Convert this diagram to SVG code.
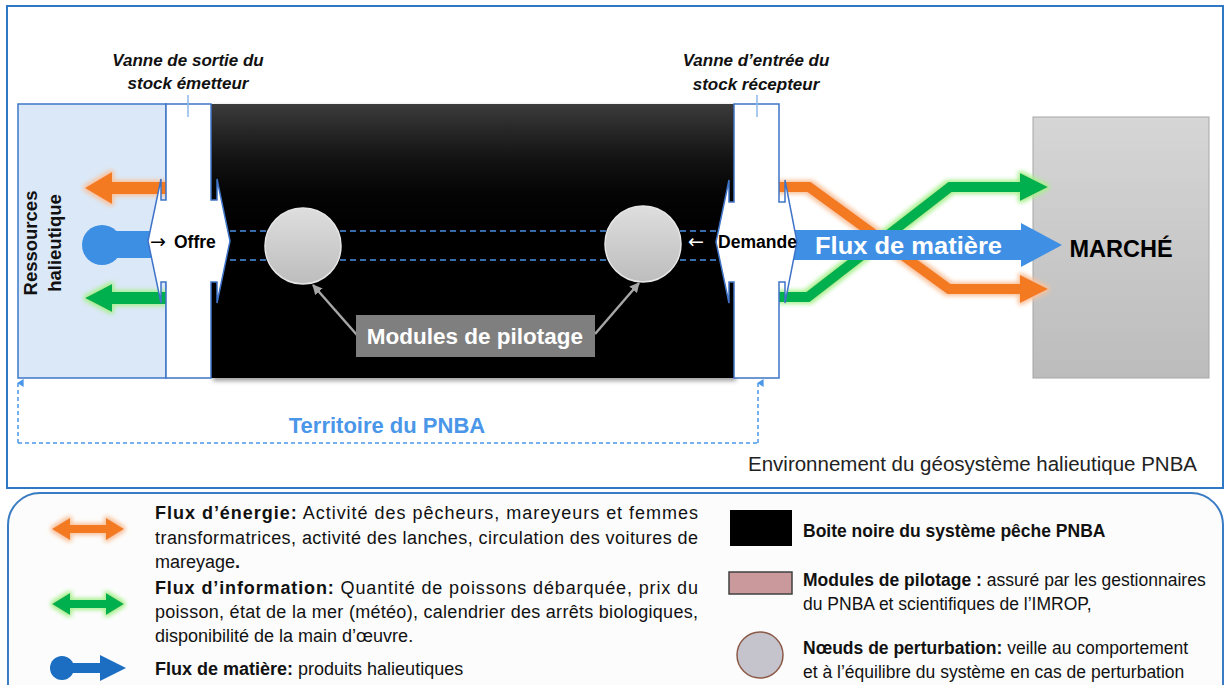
<svg xmlns="http://www.w3.org/2000/svg" width="1228" height="685" viewBox="0 0 1228 685">
<defs>
<style>
.sans{font-family:"Liberation Sans",Arial,sans-serif}
.b{font-weight:bold}
.arr{font-family:"DejaVu Sans",sans-serif}
.lg{font-family:"Liberation Sans",Arial,sans-serif;font-size:18px;fill:#111}
.lr{font-family:"Liberation Sans",Arial,sans-serif;font-size:17.5px;fill:#111}
.valve{fill:#fff;stroke:#3f74c8;stroke-width:1.5}
.tick{stroke:#8db8e8;stroke-width:1.5}
.dash{stroke:#4a90e2;stroke-width:1.3;stroke-dasharray:6 4;fill:none}
.orange{fill:#f47a20}
.green{fill:#00b050}
.pil{stroke:#a6a6a6;stroke-width:2.5;fill:none}
</style>
<linearGradient id="gBlack" x1="0" y1="0" x2="0" y2="1">
<stop offset="0" stop-color="#3c3c3c"/><stop offset="0.1" stop-color="#262626"/><stop offset="0.2" stop-color="#131313"/><stop offset="0.32" stop-color="#050505"/><stop offset="0.45" stop-color="#000"/><stop offset="1" stop-color="#000"/>
</linearGradient>
<linearGradient id="gMarche" x1="0" y1="0" x2="0" y2="1">
<stop offset="0" stop-color="#d6d6d6"/><stop offset="1" stop-color="#bcbcbc"/>
</linearGradient>
<linearGradient id="gCircle" x1="0" y1="0" x2="0" y2="1">
<stop offset="0" stop-color="#dedede"/><stop offset="1" stop-color="#bdbdbd"/>
</linearGradient>
<filter id="glowO" filterUnits="userSpaceOnUse" x="0" y="0" width="1228" height="685">
<feMorphology in="SourceAlpha" operator="dilate" radius="2" result="d"/>
<feGaussianBlur in="d" stdDeviation="2" result="bl"/>
<feFlood flood-color="#f9c29a"/>
<feComposite in2="bl" operator="in" result="g"/>
<feMerge><feMergeNode in="g"/><feMergeNode in="SourceGraphic"/></feMerge>
</filter>
<filter id="glowG" filterUnits="userSpaceOnUse" x="0" y="0" width="1228" height="685">
<feMorphology in="SourceAlpha" operator="dilate" radius="2" result="d"/>
<feGaussianBlur in="d" stdDeviation="2" result="bl"/>
<feFlood flood-color="#a8f08e"/>
<feComposite in2="bl" operator="in" result="g"/>
<feMerge><feMergeNode in="g"/><feMergeNode in="SourceGraphic"/></feMerge>
</filter>
<filter id="blur2" filterUnits="userSpaceOnUse" x="0" y="0" width="1228" height="685">
<feGaussianBlur stdDeviation="2"/>
</filter>
<marker id="mPil" viewBox="0 0 10 10" refX="9" refY="5" markerWidth="4" markerHeight="4" orient="auto">
<path d="M0,0 L10,5 L0,10 Z" fill="#a6a6a6"/>
</marker>
<marker id="mTer" viewBox="0 0 10 10" refX="5" refY="1" markerWidth="8" markerHeight="8" orient="auto" markerUnits="userSpaceOnUse">
<path d="M0,8 L5,0 L10,8 Z" fill="#4a96e8"/>
</marker>
</defs>

<rect width="1228" height="685" fill="#fff"/>

<g id="environnement">
<rect x="7" y="6" width="1216" height="482" fill="#fff" stroke="#2f78c4" stroke-width="2"/>
<text class="sans" x="748" y="471" font-size="20.5" fill="#222">Environnement du géosystème halieutique PNBA</text>
</g>

<g id="ressources">
<rect x="18" y="104" width="148" height="274" fill="#dbe8f7" stroke="#3c78c8" stroke-width="1.5"/>
<text class="sans b" transform="translate(37,243) rotate(-90)" text-anchor="middle" font-size="18.5" fill="#111">Ressources</text>
<text class="sans b" transform="translate(61,243) rotate(-90)" text-anchor="middle" font-size="18.5" fill="#111">halieutique</text>
</g>

<g id="boite-noire">
<rect x="213" y="106" width="523" height="275" fill="#777" opacity="0.7" filter="url(#blur2)"/>
<rect x="211" y="104" width="523" height="274" fill="url(#gBlack)"/>
</g>

<g id="marche">
<rect x="1033" y="117" width="176" height="261" fill="url(#gMarche)" stroke="#a6a6a6" stroke-width="1"/>
<text class="sans b" x="1121" y="257" text-anchor="middle" font-size="23.5" fill="#000">MARCHÉ</text>
</g>

<g id="connecteurs">
<polygon class="orange" filter="url(#glowO)" points="85,188 112,172 112,182 166,182 166,194 112,194 112,204"/>
<polygon class="green" filter="url(#glowG)" points="85,298 112,284 112,292 166,292 166,304 112,304 112,312"/>
<g id="flux-matiere-entree" fill="#3d8fe3">
<circle cx="102" cy="245" r="20"/>
<rect x="102" y="231" width="58" height="27"/>
</g>
<g filter="url(#glowO)">
<polyline points="775,187 809,187 949,289 1022,289" fill="none" stroke="#f47a20" stroke-width="10" stroke-linejoin="miter"/>
<polygon class="orange" points="1020,275 1048,289 1020,303"/>
</g>
<g filter="url(#glowG)">
<polyline points="775,297 808,297 950,187 1022,187" fill="none" stroke="#00b050" stroke-width="10" stroke-linejoin="miter"/>
<polygon class="green" points="1020,173 1048,187 1020,201"/>
</g>
<polygon fill="#3f8fe4" points="785,230 1021,230 1021,223 1062,245 1021,267 1021,260 785,260"/>
<text class="sans b" x="815" y="254" font-size="24" fill="#fff" textLength="187" lengthAdjust="spacingAndGlyphs">Flux de matière</text>
<line class="pil" x1="357" y1="335" x2="313" y2="285" marker-end="url(#mPil)"/>
<line class="pil" x1="595" y1="334" x2="639" y2="283" marker-end="url(#mPil)"/>
<path d="M18,443 V383" fill="none" stroke="#4a96e8" stroke-width="1.5" stroke-dasharray="4 3" marker-end="url(#mTer)"/>
<path d="M18,443 H758" fill="none" stroke="#4a96e8" stroke-width="1.5" stroke-dasharray="4 3"/>
<path d="M758,443 V383" fill="none" stroke="#4a96e8" stroke-width="1.5" stroke-dasharray="4 3" marker-end="url(#mTer)"/>
</g>

<g id="canal">
<line class="dash" x1="230" y1="231" x2="716" y2="231"/>
<line class="dash" x1="230" y1="260" x2="716" y2="260"/>
</g>

<g id="vanne-sortie">
<path class="valve" d="M166,104 H211 V200 H217 V179 L230,241 L217,303 V282 H211 V378 H166 V282 H161 V303 L148,241 L161,179 V200 H166 Z"/>
<line class="tick" x1="188" y1="95" x2="188" y2="117"/>
<text class="arr" x="150" y="248" font-size="19" fill="#000">→</text>
<text class="sans b" x="174" y="248" font-size="17.5" fill="#000">Offre</text>
<text class="sans b" font-style="italic" x="188" y="66" text-anchor="middle" font-size="17" fill="#111">Vanne de sortie du</text>
<text class="sans b" font-style="italic" x="188" y="89" text-anchor="middle" font-size="17" fill="#111">stock émetteur</text>
</g>
<g id="vanne-entree">
<path class="valve" d="M734,104 H779 V202 H785 V180 L797,242 L785,303 V282 H779 V378 H734 V282 H729 V303 L716,242 L729,180 V202 H734 Z"/>
<line class="tick" x1="757" y1="95" x2="757" y2="117"/>
<text class="sans b" x="718" y="248" font-size="17.5" fill="#000" textLength="79" lengthAdjust="spacingAndGlyphs">Demande</text>
<text class="arr" x="688" y="248" font-size="19" fill="#fff">←</text>
<text class="sans b" font-style="italic" x="756" y="66" text-anchor="middle" font-size="17" fill="#111">Vanne d’entrée du</text>
<text class="sans b" font-style="italic" x="756" y="90" text-anchor="middle" font-size="17" fill="#111">stock récepteur</text>
</g>

<g id="noeud-gauche">
<circle cx="303" cy="246" r="38" fill="url(#gCircle)" stroke="#e6e6e6" stroke-width="1.5"/>
</g>
<g id="noeud-droit">
<circle cx="643" cy="244" r="38" fill="url(#gCircle)" stroke="#e6e6e6" stroke-width="1.5"/>
</g>

<g id="modules-pilotage">
<rect x="356" y="315" width="239" height="42" fill="#7f7f7f"/>
<text class="sans b" x="475" y="344" text-anchor="middle" font-size="22.5" fill="#fff">Modules de pilotage</text>
</g>

<g id="territoire">
<text class="sans b" x="387" y="433" text-anchor="middle" font-size="22" fill="#4a96e8">Territoire du PNBA</text>
</g>

<g id="legende">
<rect x="8" y="493" width="1215" height="230" rx="32" fill="#fcfcfc" stroke="#3a7cc4" stroke-width="2"/>
<polygon class="orange" filter="url(#glowO)" points="52,529 70,518 70,525 106,525 106,518 124,529 106,540 106,533 70,533 70,540"/>
<polygon class="green" filter="url(#glowG)" points="52,604 70,593 70,600 106,600 106,593 124,604 106,615 106,608 70,608 70,615"/>
<g fill="#1b6ec2">
<circle cx="62" cy="668" r="12"/>
<rect x="62" y="663" width="40" height="10"/>
<polygon points="100,655 126,668 100,681"/>
</g>
<text class="lg" x="155" y="519" textLength="543" lengthAdjust="spacing"><tspan class="b">Flux d’énergie:</tspan> Activité des pêcheurs, mareyeurs et femmes</text>
<text class="lg" x="155" y="544" textLength="543" lengthAdjust="spacing">transformatrices, activité des lanches, circulation des voitures de</text>
<text class="lg" x="155" y="568">mareyage<tspan class="b">.</tspan></text>
<text class="lg" x="155" y="594" textLength="543" lengthAdjust="spacing"><tspan class="b">Flux d’information:</tspan> Quantité de poissons débarquée, prix du</text>
<text class="lg" x="155" y="618" textLength="543" lengthAdjust="spacing">poisson, état de la mer (météo), calendrier des arrêts biologiques,</text>
<text class="lg" x="155" y="642">disponibilité de la main d’œuvre.</text>
<text class="lg" x="155" y="675"><tspan class="b">Flux de matière:</tspan> produits halieutiques</text>

<rect x="730" y="510" width="62" height="36" fill="#000"/>
<rect x="729" y="572" width="63" height="22" fill="#c9999b" stroke="#404040" stroke-width="1.5"/>
<circle cx="760" cy="655" r="23" fill="#c5c3cc" stroke="#8c5a48" stroke-width="1.5"/>
<text class="lr b" x="803" y="537">Boite noire du système pêche PNBA</text>
<text class="lr" x="803" y="586"><tspan class="b">Modules de pilotage :</tspan> assuré par les gestionnaires</text>
<text class="lr" x="803" y="610">du PNBA et scientifiques de l’IMROP,</text>
<text class="lr" x="803" y="654"><tspan class="b">Nœuds de perturbation:</tspan> veille au comportement</text>
<text class="lr" x="803" y="678">et à l’équilibre du système en cas de perturbation</text>
</g>
</svg>
